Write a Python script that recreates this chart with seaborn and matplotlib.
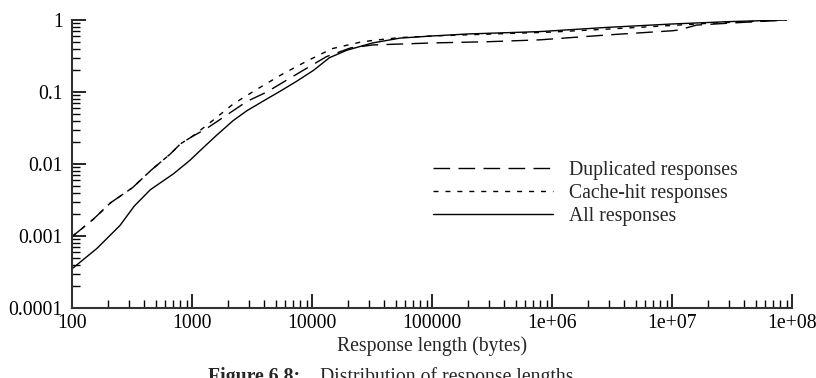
import numpy as np
import pandas as pd
import matplotlib
matplotlib.use("Agg")
import matplotlib.pyplot as plt
from matplotlib.ticker import LogLocator, NullFormatter
import seaborn as sns

# ---- data (CDF of response lengths) ----
all_len = [100, 161, 195, 251, 330, 450, 700, 964, 1200, 1600, 2200, 2870,
           4200, 5400, 7400, 10300, 14000, 19500, 32000, 54000, 100000,
           200000, 790000, 2.9e6, 1.0e7, 3.0e7, 9.0e7]
all_cdf = [0.00035, 0.00067, 0.00092, 0.0014, 0.0026, 0.0044, 0.0073, 0.0113,
           0.016, 0.025, 0.040, 0.055, 0.080, 0.102, 0.14, 0.20, 0.30, 0.38,
           0.48, 0.56, 0.60, 0.64, 0.69, 0.79, 0.88, 0.95, 1.0]

cache_len = [100, 150, 210, 320, 460, 660, 800, 1000, 1400, 2200, 3500, 5600,
             9100, 14700, 25000, 32000, 54000, 100000, 1.0e6, 3.0e6, 1.0e7,
             2.0e7, 9.0e7]
cache_cdf = [0.00098, 0.0017, 0.0029, 0.0047, 0.0083, 0.0138, 0.019, 0.024,
             0.037, 0.068, 0.11, 0.175, 0.27, 0.40, 0.49, 0.52, 0.57, 0.60,
             0.68, 0.75, 0.84, 0.90, 1.0]

dup_len = [100, 150, 210, 320, 460, 660, 800, 1000, 1320, 1950, 2870, 4200,
           6400, 9300, 13200, 21000, 32000, 100000, 300000, 790000, 2.9e6,
           1.02e7, 1.15e7, 1.6e7, 3.6e7, 9.0e7]
dup_cdf = [0.00098, 0.0017, 0.0029, 0.0047, 0.0083, 0.0138, 0.019, 0.024,
           0.031, 0.048, 0.074, 0.10, 0.152, 0.22, 0.31, 0.41, 0.45, 0.48,
           0.50, 0.53, 0.62, 0.71, 0.73, 0.85, 0.92, 1.0]

x_ticks = [1e2, 1e3, 1e4, 1e5, 1e6, 1e7, 1e8]
x_labels = ["100", "1000", "10000", "100000", "1e+06", "1e+07", "1e+08"]
y_ticks = [1e-4, 1e-3, 1e-2, 1e-1, 1]
y_labels = ["0.0001", "0.001", "0.01", "0.1", "1"]

# ---- style ----
sns.set_style("ticks")
plt.rcParams['font.family'] = ['Liberation Serif', 'DejaVu Serif']
FS = 14.2

fig = plt.figure(figsize=(8.16, 3.78), dpi=100)
ax = fig.add_axes([72 / 816, 1 - 308 / 378, 720 / 816, 288 / 378])

sns.lineplot(x=dup_len, y=dup_cdf, ax=ax, color="black", lw=1.0,
             linestyle=(0, (12, 6)), label="Duplicated responses")
sns.lineplot(x=cache_len, y=cache_cdf, ax=ax, color="black", lw=1.0,
             linestyle=(0, (3.6, 5)), label="Cache-hit responses")
sns.lineplot(x=all_len, y=all_cdf, ax=ax, color="black", lw=1.0,
             linestyle="-", label="All responses")

ax.set_xscale("log")
ax.set_yscale("log")
ax.set_xlim(1e2, 1e8)
ax.set_ylim(1e-4, 1)

ax.set_xticks(x_ticks)
ax.set_xticklabels(x_labels)
ax.set_yticks(y_ticks)
ax.set_yticklabels(y_labels)
ax.xaxis.set_minor_locator(LogLocator(base=10, subs=np.arange(2, 10), numticks=20))
ax.yaxis.set_minor_locator(LogLocator(base=10, subs=np.arange(2, 10), numticks=20))
ax.xaxis.set_minor_formatter(NullFormatter())
ax.yaxis.set_minor_formatter(NullFormatter())

ax.tick_params(which="major", direction="in", length=10, width=1.2,
               labelsize=FS, colors="black")
ax.tick_params(which="minor", direction="in", length=5.5, width=1.0,
               colors="black")
ax.tick_params(axis="x", which="major", pad=4.5)
ax.tick_params(axis="y", which="major", pad=6.5)

sns.despine(ax=ax)
for s in ("left", "bottom"):
    ax.spines[s].set_linewidth(1.5)
    ax.spines[s].set_color("#333333")

ax.set_xlabel("Response length (bytes)", fontsize=FS, labelpad=2.5)
ax.set_ylabel("")

ax.legend(loc="center left", bbox_to_anchor=(0.501, 0.399), frameon=False,
          fontsize=FS, handlelength=6.1, handletextpad=0.8,
          labelspacing=0.2, borderpad=0, borderaxespad=0)

# caption (cut off at the bottom edge as in the original)
fig.text(300 / 816, 1 - 367 / 378, "Figure 6.8:", fontsize=FS,
         fontweight="bold", ha="right", va="top")
fig.text(320 / 816, 1 - 367 / 378, "Distribution of response lengths",
         fontsize=FS, ha="left", va="top")

fig.savefig("out.png", dpi=100)
